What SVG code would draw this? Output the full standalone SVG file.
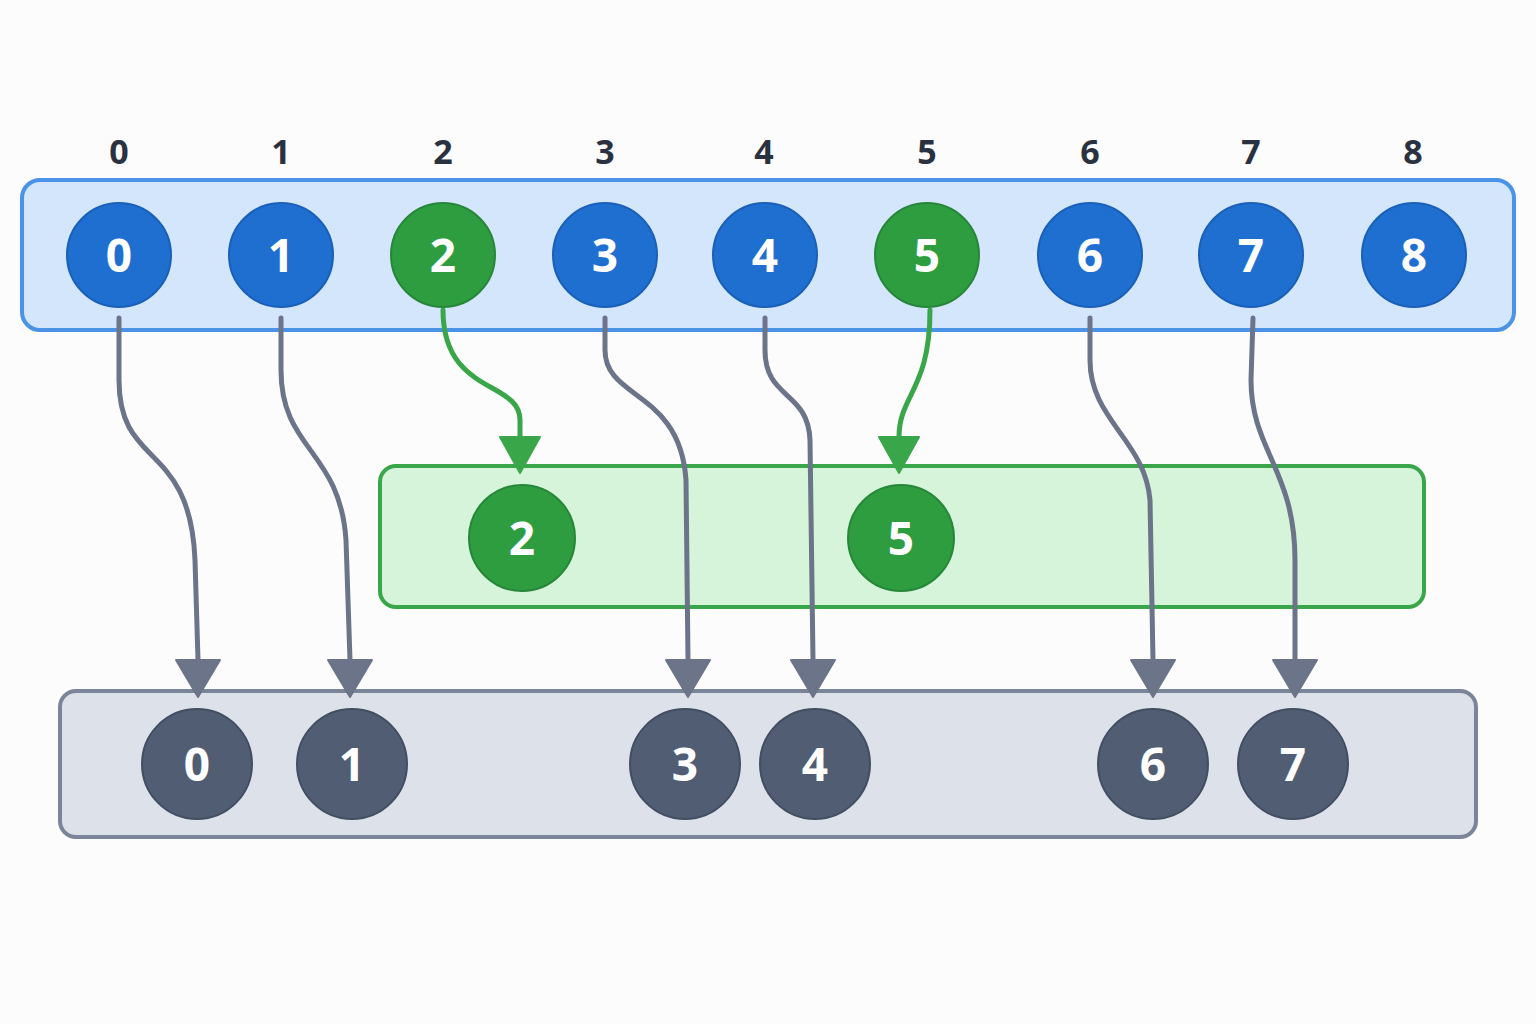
<svg xmlns="http://www.w3.org/2000/svg" width="1536" height="1024" viewBox="0 0 1536 1024">
<style>
.idx{font-family:"Open Sans","DejaVu Sans",sans-serif;font-weight:bold;font-size:34px;fill:#2a3140;text-anchor:middle}
.lbl{font-family:"Open Sans","DejaVu Sans",sans-serif;font-weight:bold;font-size:46px;fill:#fff;text-anchor:middle}
.b{fill:#1f6fd1;stroke:#1a5fb8;stroke-width:2}
.g{fill:#2e9d3f;stroke:#27863a;stroke-width:2}
.k{fill:#505d73;stroke:#434e62;stroke-width:2}
.cg{fill:none;stroke:#6b7489;stroke-width:5;stroke-linecap:round}
.cgr{fill:none;stroke:#3aa64a;stroke-width:5;stroke-linecap:round}
.ag{fill:#6b7489;stroke:#6b7489;stroke-width:2;stroke-linejoin:round}
.agr{fill:#3aa64a;stroke:#3aa64a;stroke-width:2;stroke-linejoin:round}
</style>
<rect width="1536" height="1024" fill="#fcfcfc"/>
<g id="indices">
<text class="idx" x="119" y="164">0</text><text class="idx" x="281" y="164">1</text><text class="idx" x="443" y="164">2</text><text class="idx" x="605" y="164">3</text><text class="idx" x="764" y="164">4</text><text class="idx" x="927" y="164">5</text><text class="idx" x="1090" y="164">6</text><text class="idx" x="1251" y="164">7</text><text class="idx" x="1413" y="164">8</text>
</g>
<rect id="top-box" x="22" y="180" width="1492" height="150" rx="18" fill="#d3e6fb" stroke="#4a93e6" stroke-width="4"/>
<rect id="green-box" x="380" y="466" width="1044" height="141" rx="16" fill="#d5f4da" stroke="#3aa64a" stroke-width="4"/>
<rect id="bottom-box" x="60" y="691" width="1416" height="146" rx="16" fill="#dde2ea" stroke="#7a8599" stroke-width="4"/>
<g id="connectors">
<path class="cg" d="M119,318 L119,380 C119,470 190,440 195,560 L198,660"/>
<path class="ag" d="M176,660 L220,660 L198,697 Z"/>
<path class="cg" d="M281,318 L281,370 C281,450 340,450 346,540 L350,660"/>
<path class="ag" d="M328,660 L372,660 L350,697 Z"/>
<path class="cgr" d="M443,310 C443,395 520,380 520,420 L520,437"/>
<path class="agr" d="M500,437 L540,437 L520,473 Z"/>
<path class="cgr" d="M930,310 C930,390 899,395 899,437"/>
<path class="agr" d="M879,437 L919,437 L899,473 Z"/>
<path class="cg" d="M605,318 L605,350 C605,400 680,390 686,480 L688,660"/>
<path class="ag" d="M666,660 L710,660 L688,697 Z"/>
<path class="cg" d="M765,318 L765,350 C765,400 808,390 810,440 L813,660"/>
<path class="ag" d="M791,660 L835,660 L813,697 Z"/>
<path class="cg" d="M1090,318 L1090,360 C1090,420 1145,440 1150,500 L1153,660"/>
<path class="ag" d="M1131,660 L1175,660 L1153,697 Z"/>
<path class="cg" d="M1253,318 L1251,380 C1251,450 1295,470 1295,560 L1295,660"/>
<path class="ag" d="M1273,660 L1317,660 L1295,697 Z"/>
</g>
<g id="n-top-0"><circle class="b" cx="119" cy="255" r="52"/><text class="lbl" x="119" y="272">0</text></g>
<g id="n-top-1"><circle class="b" cx="281" cy="255" r="52"/><text class="lbl" x="281" y="272">1</text></g>
<g id="n-top-2"><circle class="g" cx="443" cy="255" r="52"/><text class="lbl" x="443" y="272">2</text></g>
<g id="n-top-3"><circle class="b" cx="605" cy="255" r="52"/><text class="lbl" x="605" y="272">3</text></g>
<g id="n-top-4"><circle class="b" cx="765" cy="255" r="52"/><text class="lbl" x="765" y="272">4</text></g>
<g id="n-top-5"><circle class="g" cx="927" cy="255" r="52"/><text class="lbl" x="927" y="272">5</text></g>
<g id="n-top-6"><circle class="b" cx="1090" cy="255" r="52"/><text class="lbl" x="1090" y="272">6</text></g>
<g id="n-top-7"><circle class="b" cx="1251" cy="255" r="52"/><text class="lbl" x="1251" y="272">7</text></g>
<g id="n-top-8"><circle class="b" cx="1414" cy="255" r="52"/><text class="lbl" x="1414" y="272">8</text></g>
<g id="n-g-2"><circle class="g" cx="522" cy="538" r="53"/><text class="lbl" x="522" y="555">2</text></g>
<g id="n-g-5"><circle class="g" cx="901" cy="538" r="53"/><text class="lbl" x="901" y="555">5</text></g>
<g id="n-b-0"><circle class="k" cx="197" cy="764" r="55"/><text class="lbl" x="197" y="781">0</text></g>
<g id="n-b-1"><circle class="k" cx="352" cy="764" r="55"/><text class="lbl" x="352" y="781">1</text></g>
<g id="n-b-3"><circle class="k" cx="685" cy="764" r="55"/><text class="lbl" x="685" y="781">3</text></g>
<g id="n-b-4"><circle class="k" cx="815" cy="764" r="55"/><text class="lbl" x="815" y="781">4</text></g>
<g id="n-b-6"><circle class="k" cx="1153" cy="764" r="55"/><text class="lbl" x="1153" y="781">6</text></g>
<g id="n-b-7"><circle class="k" cx="1293" cy="764" r="55"/><text class="lbl" x="1293" y="781">7</text></g>
</svg>
